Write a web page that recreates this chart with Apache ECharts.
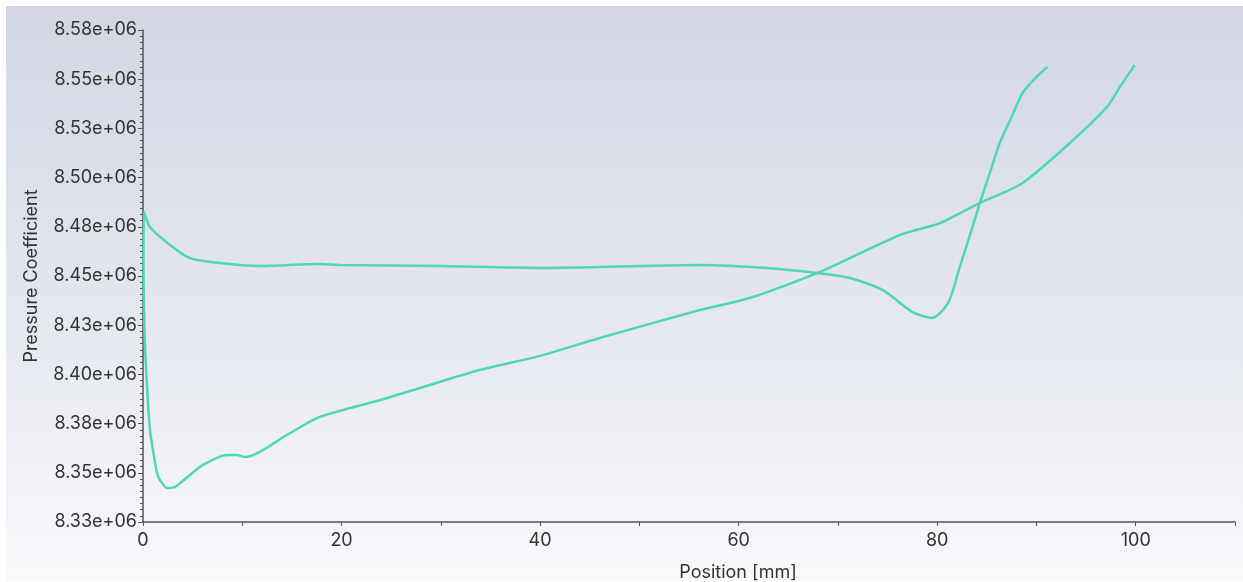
<!DOCTYPE html>
<html>
<head>
<meta charset="utf-8">
<script src="https://cdn.jsdelivr.net/npm/echarts@6/dist/echarts.min.js"></script>
<style>
  html, body { margin: 0; padding: 0; background: #ffffff; }
  #chart { width: 1243px; height: 582px; }
</style>
</head>
<body>
<div id="chart"></div>
<script>
// Surface pressure along the profile, traced as one loop:
// upper side from the trailing edge to the leading edge, then the lower side back.
const positionMm = [
  91.1, 89.9, 88.6, 87.5, 86.3, 85.3, 84.3, 83.3, 82.3, 81.1, 79.5, 77.5, 74.5, 71.2, 67.9,
  62.8, 56.1, 46.0, 40.0, 30.0, 20.0, 17.8, 11.8, 7.75, 4.73, 2.72, 0.70, 0.10,
  0.05, 0.15, 0.37, 0.70, 1.00, 1.41, 1.71, 2.42, 3.22, 4.73, 6.04, 8.46, 9.47, 10.27,
  11.78, 14.5, 17.82, 23.9, 27.9, 33.9, 40.0, 46.0, 56.1, 61.1, 67.9, 71.2, 76.2, 77.9,
  80.3, 84.3, 88.6, 93.7, 97.1, 98.4, 99.9
];
const pressure = [
  8556200, 8550600, 8543000, 8530800, 8517600, 8502300, 8487100, 8470800, 8455000, 8436300,
  8428700, 8431700, 8442900, 8449000, 8451500,
  8454100, 8455600, 8454600, 8454100, 8455100, 8455600, 8456100, 8455100, 8456600, 8459100,
  8465800, 8474900, 8482500,
  8458000, 8422600, 8397200, 8371700, 8361600, 8349900, 8346300, 8342300, 8342800, 8348900,
  8354000, 8359000, 8359000, 8358000,
  8360600, 8369200, 8378400, 8387000, 8393100, 8402200, 8409400, 8418500, 8432700, 8438800,
  8451500, 8459100, 8470800, 8473400,
  8476900, 8487100, 8497300, 8519100, 8535900, 8546000, 8557200
];
const yTickLabels = [
  '8.33e+06', '8.35e+06', '8.38e+06', '8.40e+06', '8.43e+06', '8.45e+06',
  '8.48e+06', '8.50e+06', '8.53e+06', '8.55e+06', '8.58e+06'
];
const xTickLabels = [0, 20, 40, 60, 80, 100];

const yMin = 8325000, yMax = 8575000, yStep = 25000;
const points = positionMm.map((x, i) => [x, pressure[i]]);
const font = 'Inter';
const textColor = '#333333';
const axisColor = '#555555';

const chart = echarts.init(document.getElementById('chart'), null, { renderer: 'canvas' });
chart.setOption({
  animation: false,
  backgroundColor: '#ffffff',
  graphic: {
    elements: [{
      type: 'rect',
      silent: true,
      z: -10,
      shape: { x: 6, y: 6, width: 1237, height: 574 },
      style: {
        fill: new echarts.graphic.LinearGradient(0, 0, 0, 1, [
          { offset: 0, color: '#d2d7e3' },
          { offset: 0.5, color: '#e3e6ee' },
          { offset: 1, color: '#f8f9fb' }
        ])
      }
    }]
  },
  grid: { left: 143, right: 8, top: 30, bottom: 60, containLabel: false, outerBoundsMode: 'none' },
  xAxis: {
    type: 'value',
    min: 0, max: 110, interval: 10,
    name: 'Position [mm]',
    nameLocation: 'middle',
    nameGap: 42,
    nameTextStyle: { fontFamily: font, fontSize: 18, color: textColor, padding: [0, 0, 0, 98] },
    axisLine: { show: true, onZero: false, lineStyle: { color: axisColor, width: 1.5 } },
    axisTick: { show: true, length: 4, lineStyle: { color: axisColor } },
    splitLine: { show: false },
    axisLabel: {
      fontFamily: font, fontSize: 18, color: textColor, margin: 10,
      formatter: v => (xTickLabels.includes(v) ? String(v) : '')
    }
  },
  yAxis: {
    type: 'value',
    min: yMin, max: yMax, interval: yStep,
    name: 'Pressure Coefficient',
    nameLocation: 'middle',
    nameGap: 102,
    nameRotate: 90,
    nameTextStyle: { fontFamily: font, fontSize: 18, color: textColor },
    axisLine: { show: true, lineStyle: { color: axisColor, width: 1.5 } },
    axisTick: { show: true, length: 5, lineStyle: { color: axisColor } },
    minorTick: { show: true, splitNumber: 8, length: 3, lineStyle: { color: axisColor } },
    splitLine: { show: false },
    axisLabel: {
      fontFamily: font, fontSize: 18, color: textColor, margin: 6,
      formatter: v => yTickLabels[Math.round((v - yMin) / yStep)]
    }
  },
  series: [{
    type: 'line',
    data: points,
    showSymbol: false,
    smooth: 0.25,
    lineStyle: { color: '#4fd6b6', width: 2.5 }
  }]
});
</script>
</body>
</html>
